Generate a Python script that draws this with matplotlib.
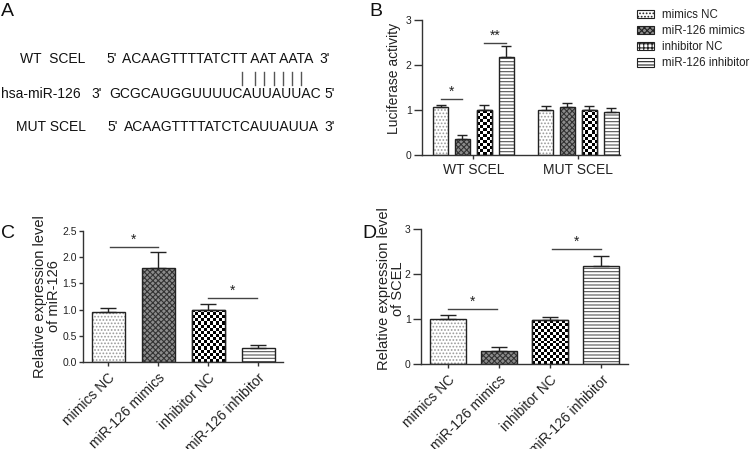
import matplotlib.pyplot as plt
import numpy as np

plt.rcParams['font.family'] = ['Liberation Sans', 'DejaVu Sans']
plt.rcParams['hatch.linewidth'] = 0.8

W, H = 750, 449

# ---- data ----
groups = ['mimics NC', 'miR-126 mimics', 'inhibitor NC', 'miR-126 inhibitor']
hatches = ['.....', 'xxxxxx', None, '-----']
faces = ['white', '#8c8c8c', 'white', 'white']
hcolors = ['#9a9a9a', '#333333', 'black', '#555555']

luc_sites = ['WT SCEL', 'MUT SCEL']
luc_wt = [1.06, 0.36, 1.00, 2.17]
luc_wt_err = [0.06, 0.08, 0.12, 0.25]
luc_mut = [0.99, 1.07, 1.01, 0.95]
luc_mut_err = [0.09, 0.09, 0.08, 0.09]

mir_vals = [0.95, 1.80, 1.00, 0.26]
mir_err = [0.08, 0.30, 0.11, 0.07]

scel_vals = [1.01, 0.30, 0.97, 2.18]
scel_err = [0.08, 0.08, 0.07, 0.23]


def px_ax(fig, l, t, r, b):
    return fig.add_axes([l / W, 1 - b / H, (r - l) / W, (b - t) / H])


def style_ax(ax, ysize, ylen):
    for s in ['top', 'right']:
        ax.spines[s].set_visible(False)
    for s in ['left', 'bottom']:
        ax.spines[s].set_color('#333333')
        ax.spines[s].set_linewidth(1.0)
    ax.tick_params(axis='both', colors='#333333', labelcolor='#222222',
                   width=1.0, direction='out')
    ax.tick_params(axis='y', labelsize=ysize, length=ylen, pad=1.5)
    ax.tick_params(axis='x', labelsize=10, length=3, pad=3)


def checker(ax, bar, cell=3.0):
    # checkerboard fill clipped to the bar (inhibitor NC pattern)
    bb = bar.get_window_extent()
    nx = max(2, int(round(bb.width / cell)))
    ny = max(2, int(round(bb.height / cell)))
    arr = (np.add.outer(np.arange(ny), np.arange(nx)) % 2).astype(float)
    x0, y0 = bar.get_x(), bar.get_y()
    im = ax.imshow(arr, extent=[x0, x0 + bar.get_width(), y0, y0 + bar.get_height()],
                   cmap='gray', interpolation='nearest', aspect='auto',
                   origin='lower', zorder=2.2)
    im.set_clip_path(bar)


def draw_bars(ax, x, vals, errs, width, capsize, xlim, ylim):
    ax.set_xlim(*xlim)
    ax.set_ylim(*ylim)
    for i, (xi, v) in enumerate(zip(x, vals)):
        k = i % 4
        b = ax.bar(xi, v, width=width, facecolor=faces[k], edgecolor='#222222',
                   hatch=hatches[k], linewidth=1.0, zorder=2)[0]
        b._hatch_color = plt.matplotlib.colors.to_rgba(hcolors[k])
        if k == 2:
            checker(ax, b)
            # outline on top of the pattern
            ax.bar(xi, v, width=width, facecolor='none', edgecolor='#222222',
                   linewidth=1.0, zorder=2.5)
    ax.errorbar(x, vals, yerr=[np.zeros(len(vals)), errs], fmt='none',
                ecolor='#222222', elinewidth=1.0, capsize=capsize,
                capthick=1.0, zorder=3)
    ax.set_xlim(*xlim)
    ax.set_ylim(*ylim)


def sig(ax, x0, x1, y, text):
    ax.plot([x0, x1], [y, y], color='#444444', lw=1.0, clip_on=False)
    ax.text((x0 + x1) / 2, y, text, ha='center', va='bottom', fontsize=10,
            color='#222222')


fig = plt.figure(figsize=(W / 100, H / 100), dpi=100)

# ---- panel A: sequences ----
def ftext(x, y, s, size=10, **kw):
    fig.text(x / W, 1 - y / H, s, fontsize=size, color='#111111',
             va='center', **kw)

ftext(1, 12, 'A', size=14)
ftext(369, 12, 'B', size=14)
ftext(1, 233, 'C', size=14)
ftext(362, 234, 'D', size=14)

ftext(20, 59, 'WT  SCEL')
ftext(106, 59, "5'")
ftext(122, 59, 'ACAAGTTTTATCTT AAT AATA')
ftext(319, 59, "3'")

ftext(1, 94, 'hsa-miR-126')
ftext(91, 94, "3'")
ftext(109, 94, 'GCGCAUGGUUUUCAUUAUUAC')
ftext(324, 94, "5'")

ftext(16, 127, 'MUT SCEL')
ftext(107, 127, "5'")
ftext(124, 127, 'ACAAGTTTTATCTCAUUAUUA')
ftext(324, 127, "3'")

for bx in [242, 255, 264, 274, 283, 292, 301]:
    fig.add_artist(plt.Line2D([bx / W, bx / W], [1 - 72 / H, 1 - 85 / H],
                              color='#555555', lw=1.0))

# ---- panel B: luciferase ----
axB = px_ax(fig, 422, 20, 620, 155)
style_ax(axB, 7.5, 6)
xb_wt = np.arange(4)
xb_mut = np.arange(4) + 4.8
xb = np.concatenate([xb_wt, xb_mut])
draw_bars(axB, xb, luc_wt + luc_mut, luc_wt_err + luc_mut_err, 0.7, 3.5,
          (-0.85, 8.2), (0, 3))
axB.set_yticks([0, 1, 2, 3])
axB.set_xticks([xb_wt.mean(), xb_mut.mean()])
axB.set_xticklabels(luc_sites, fontsize=10)
axB.set_ylabel('Luciferase activity', fontsize=10, color='#222222')
axB.yaxis.set_label_coords(-0.106, 0.57)
sig(axB, xb_wt[0], xb_wt[1], 1.24, '*')
sig(axB, xb_wt[2], xb_wt[3], 2.49, '**')

handles = [plt.Rectangle((0, 0), 1, 1, facecolor=faces[k], edgecolor='#222222',
                         hatch=hatches[k] if k != 2 else '++++', linewidth=0.8)
           for k in range(4)]
leg = fig.legend(handles, groups, loc='upper left',
                 bbox_to_anchor=(637 / W, 1 - 9 / H), frameon=False,
                 fontsize=8.3, handlelength=1.5, handleheight=0.8,
                 labelspacing=0.35, handletextpad=0.7, borderaxespad=0,
                 borderpad=0)
for t in leg.get_texts():
    t.set_color('#222222')

# ---- panel C: miR-126 expression ----
axC = px_ax(fig, 83, 231, 283, 362)
style_ax(axC, 7.5, 3)
xc = np.arange(4)
draw_bars(axC, xc, mir_vals, mir_err, 0.66, 5.5, (-0.5, 3.5), (0, 2.5))
axC.set_yticks(np.arange(0, 2.51, 0.5))
axC.set_yticklabels([f'{v:.1f}' for v in np.arange(0, 2.51, 0.5)])
axC.set_xticks(xc)
axC.set_xticklabels(groups, rotation=45, ha='right', rotation_mode='anchor',
                    fontsize=10)
axC.set_ylabel('Relative expression level\nof miR-126', fontsize=10.5,
               color='#222222', linespacing=1.0)
axC.yaxis.set_label_coords(-0.11, 0.5)
sig(axC, 0.03, 1.0, 2.19, '*')
sig(axC, 2.0, 2.97, 1.22, '*')

# ---- panel D: SCEL expression ----
axD = px_ax(fig, 421, 229, 628, 364)
style_ax(axD, 7.5, 6)
draw_bars(axD, xc, scel_vals, scel_err, 0.7, 6, (-0.52, 3.52), (0, 3))
axD.set_yticks([0, 1, 2, 3])
axD.set_xticks(xc)
axD.set_xticklabels(groups, rotation=45, ha='right', rotation_mode='anchor',
                    fontsize=10)
axD.set_ylabel('Relative expression level\nof SCEL', fontsize=10.5,
               color='#222222', linespacing=1.0)
axD.yaxis.set_label_coords(-0.078, 0.56)
sig(axD, 0.0, 0.97, 1.22, '*')
sig(axD, 2.03, 3.0, 2.55, '*')

fig.savefig('out.png', dpi=100)
